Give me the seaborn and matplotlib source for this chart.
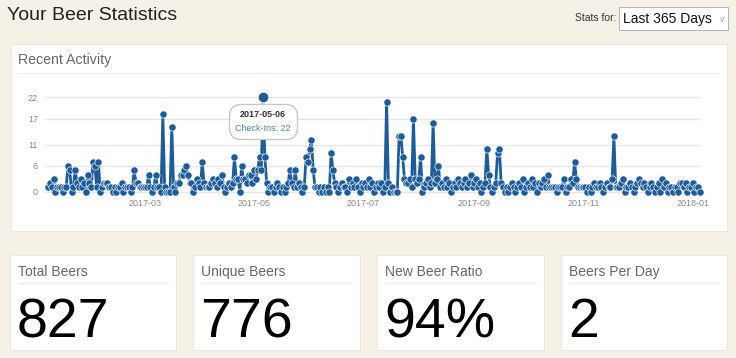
import numpy as np
import pandas as pd
import matplotlib
matplotlib.use("Agg")
import matplotlib.pyplot as plt
from matplotlib.patches import Rectangle
from matplotlib.lines import Line2D
from matplotlib.offsetbox import TextArea, VPacker, AnnotationBbox
import seaborn as sns

# daily check-ins, last 365 days
start_date = "2017-01-06"
checkins = [
    1, 2, 1, 3, 0, 1, 1, 1, 0, 1,
    1, 6, 5, 0, 1, 5, 2, 1, 3, 1,
    2, 0, 4, 2, 1, 7, 6, 1, 7, 0,
    1, 2, 2, 2, 1, 1, 0, 1, 0, 1,
    1, 2, 0, 1, 1, 1, 0, 1, 5, 2,
    2, 1, 1, 1, 1, 1, 4, 1, 0, 1,
    4, 1, 1, 0, 18, 1, 0, 0, 0, 15,
    1, 0, 2, 2, 4, 4, 5, 6, 4, 2,
    2, 0, 1, 3, 2, 1, 7, 2, 1, 1,
    1, 2, 3, 2, 1, 3, 2, 4, 1, 0,
    1, 2, 1, 2, 8, 3, 3, 0, 6, 3,
    3, 2, 4, 4, 2, 5, 3, 5, 8, 5,
    22, 8, 2, 0, 1, 1, 0, 1, 2, 1,
    0, 1, 0, 1, 2, 5, 2, 1, 5, 1,
    2, 1, 0, 1, 8, 7, 10, 12, 5, 1,
    1, 0, 1, 0, 1, 0, 1, 0, 9, 5,
    2, 1, 0, 1, 2, 1, 1, 0, 3, 1,
    2, 1, 3, 1, 0, 2, 1, 2, 1, 3,
    1, 2, 0, 1, 2, 1, 2, 0, 1, 21,
    2, 0, 1, 0, 0, 0, 13, 13, 8, 3,
    2, 2, 3, 1, 17, 3, 2, 3, 8, 0,
    1, 2, 3, 1, 2, 16, 2, 3, 6, 1,
    2, 1, 3, 1, 2, 0, 1, 2, 1, 3,
    2, 1, 2, 3, 1, 2, 4, 1, 2, 3,
    1, 2, 0, 1, 2, 10, 4, 1, 0, 1,
    2, 9, 10, 2, 1, 0, 1, 0, 1, 2,
    1, 0, 1, 2, 1, 3, 0, 1, 2, 1,
    3, 1, 2, 0, 2, 1, 2, 3, 1, 4,
    1, 1, 1, 1, 0, 1, 1, 1, 3, 0,
    1, 1, 3, 2, 7, 3, 1, 1, 1, 1,
    1, 0, 1, 0, 1, 2, 1, 1, 2, 1,
    0, 1, 2, 1, 1, 3, 13, 1, 1, 1,
    2, 3, 0, 1, 1, 2, 1, 0, 1, 2,
    3, 2, 1, 2, 1, 0, 1, 2, 1, 0,
    1, 2, 0, 3, 1, 2, 0, 1, 1, 0,
    1, 1, 0, 2, 2, 1, 2, 0, 1, 1,
    2, 0, 1, 1, 0,
]
y_ticks = [0, 6, 11, 17, 22]
x_ticks = ["2017-03-01", "2017-05-01", "2017-07-01", "2017-09-01", "2017-11-01", "2018-01-01"]
x_tick_labels = ["2017-03", "2017-05", "2017-07", "2017-09", "2017-11", "2018-01"]
highlight_date = "2017-05-06"

stat_titles = ["Total Beers", "Unique Beers", "New Beer Ratio", "Beers Per Day"]
stat_values = ["827", "776", "94%", "2"]

BG = "#f5f1e7"
BLUE = "#1c5c9c"
W, H = 736, 358

sns.set_theme(style="white")
FONT = ["Liberation Sans Narrow", "Liberation Sans", "DejaVu Sans"]
plt.rcParams["font.family"] = FONT

df = pd.DataFrame({
    "date": pd.date_range(start_date, periods=len(checkins), freq="D"),
    "checkins": checkins,
})


def fx(px):
    return px / W


def fy(py):
    return 1 - py / H


fig = plt.figure(figsize=(W / 100, H / 100), dpi=100, facecolor=BG)


def card(x0, y0, x1, y1, ec="#ebe6da"):
    fig.patches.append(Rectangle((fx(x0), fy(y1)), fx(x1) - fx(x0), fy(y0) - fy(y1),
                                 transform=fig.transFigure, facecolor="white",
                                 edgecolor=ec, lw=0.6, zorder=0.5))


card(11, 44, 727, 231)

# header
fig.text(fx(7), fy(16), "Your Beer Statistics", fontsize=14, color="#222222",
         va="center", ha="left")
fig.text(fx(616), fy(18), "Stats for:", fontsize=7.5, color="#333333", va="center", ha="right")
card(619, 7, 728, 30, ec="#a9a9a9")
fig.text(fx(623), fy(19), "Last 365 Days", fontsize=10, color="#111111", va="center", ha="left")
fig.text(fx(722), fy(19), "v", fontsize=5.5, color="#999999", va="center", ha="center",
         family="DejaVu Sans")

fig.text(fx(18), fy(60), "Recent Activity", fontsize=10.2, color="#666666", va="center", ha="left")
fig.lines.append(Line2D([fx(18), fx(719)], [fy(73), fy(73)], transform=fig.transFigure,
                        color="#eeeeee", lw=1, zorder=0.6))

# chart
ax = fig.add_axes([fx(45), fy(196), fx(700) - fx(45), fy(93) - fy(196)])
ax.set_zorder(2)
ax.set_facecolor("none")
sns.lineplot(data=df, x="date", y="checkins", ax=ax, color=BLUE, linewidth=2,
             marker="o", markersize=5.2, markeredgecolor="white", markeredgewidth=0.45)
for ln in ax.lines:
    ln.set_clip_on(False)

hl = df[df["date"] == pd.Timestamp(highlight_date)]
ax.scatter(hl["date"], hl["checkins"], s=64, color=BLUE, edgecolor="white", lw=1,
           zorder=5, clip_on=False)

t0 = df["date"].iloc[0]
ax.set_xlim(t0 - pd.Timedelta(days=1.84), t0 + pd.Timedelta(days=364.1))
ax.set_ylim(-1, 23)
ax.set_yticks(y_ticks)
ax.set_yticklabels([str(v) for v in y_ticks])
ax.set_xticks(pd.to_datetime(x_ticks))
ax.set_xticklabels(x_tick_labels)
ax.grid(axis="y", color="#e6e6e6", lw=1)
ax.grid(axis="x", visible=False)
ax.set_xlabel("")
ax.set_ylabel("")
for s in ax.spines.values():
    s.set_visible(False)
ax.tick_params(axis="both", length=0, labelsize=6.5, labelcolor="#888888")
ax.tick_params(axis="y", pad=5)
ax.tick_params(axis="x", pad=2.5)

# tooltip tied to highlighted point
hx, hy = hl["date"].iloc[0], hl["checkins"].iloc[0]
tip = VPacker(children=[
    TextArea(highlight_date, textprops=dict(fontsize=6.5, fontweight="bold", color="#333333",
                                            family=["Liberation Sans", "DejaVu Sans"])),
    TextArea(f"Check-Ins: {hy}", textprops=dict(fontsize=6.5, color="#4a80b8",
                                                family=["Liberation Sans", "DejaVu Sans"])),
], align="center", pad=0, sep=3.5)
ab = AnnotationBbox(tip, (hx, hy), xybox=(0, -17.5), xycoords="data",
                    boxcoords="offset points", frameon=True, pad=0.4,
                    bboxprops=dict(boxstyle="round,pad=0.4,rounding_size=0.8",
                                   fc="white", ec="#c8c8c8", lw=1),
                    annotation_clip=False, zorder=6)
ax.add_artist(ab)

# stat cards
card_x = [(10, 176), (193, 360), (377, 544), (561, 727)]
for (x0, x1), title, val in zip(card_x, stat_titles, stat_values):
    card(x0, 255, x1, 350)
    fig.text(fx(x0 + 8), fy(276), title, fontsize=10, color="#666666", va="baseline", ha="left")
    fig.lines.append(Line2D([fx(x0 + 8), fx(x1 - 8)], [fy(283), fy(283)],
                            transform=fig.transFigure, color="#eeeeee", lw=1, zorder=0.6))
    fig.text(fx(x0 + 7), fy(337), val, fontsize=40, color="#000000", va="baseline", ha="left")

fig.savefig("out.png", dpi=100, facecolor=BG)
